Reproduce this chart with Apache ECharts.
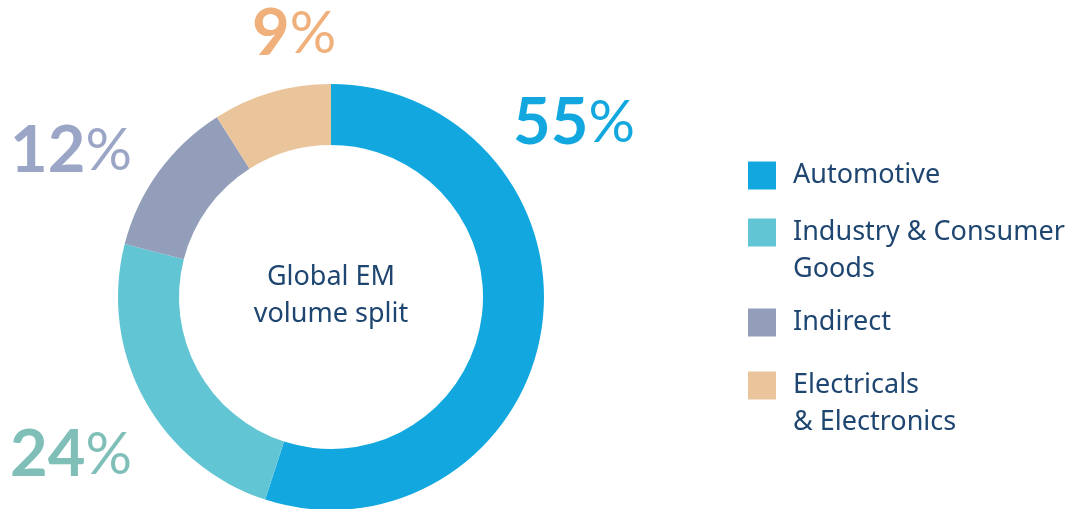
<!DOCTYPE html>
<html>
<head>
<meta charset="utf-8">
<script src="https://cdn.jsdelivr.net/npm/echarts@6/dist/echarts.min.js"></script>
<style>
  html, body { margin: 0; padding: 0; background: #fff; }
  #chart { width: 1073px; height: 509px; }
</style>
</head>
<body>
<div id="chart"></div>
<script>
var categories = ['Automotive', 'Industry & Consumer Goods', 'Indirect', 'Electricals & Electronics'];
var legendText = ['Automotive', 'Industry & Consumer\nGoods', 'Indirect', 'Electricals\n& Electronics'];
var shares = [55, 24, 12, 9];

var sliceColors = ['#12a8df', '#62c5d4', '#929eba', '#eac59b'];
var labelColors = ['#12a8df', '#7fbfb8', '#9ba5c6', '#efb07c'];
// where each percentage label sits (layout only)
var labelSpots = [[513, 123], [10, 455], [10, 151], [252, 34]];
var legendTops = [157, 177, 304, 330];

var chart = echarts.init(document.getElementById('chart'));

var pieData = categories.map(function (name, i) {
	return {
		name: name,
		value: shares[i],
		itemStyle: { color: sliceColors[i] },
		label: {
			rich: {
				n: { fontSize: 65, fontWeight: 'bold', fontFamily: 'Lato', color: labelColors[i] },
				p: { fontSize: 58, fontWeight: 'normal', fontFamily: 'Lato', color: labelColors[i] }
			}
		}
	};
});

var legends = categories.map(function (name, i) {
	return {
		data: [name],
		orient: 'vertical',
		left: 748,
		top: legendTops[i],
		padding: 0,
		icon: 'rect',
		itemWidth: 28,
		itemHeight: 28,
		selectedMode: false,
		formatter: function () {
			var t = legendText[i];
			return t.indexOf('\n') >= 0 ? '\n' + t : t;
		},
		textStyle: {
			fontFamily: 'Noto Sans',
			fontSize: 27,
			color: '#1f4670',
			lineHeight: 37,
			padding: [0, 0, 0, 12]
		}
	};
});

var option = {
	animation: false,
	title: {
		text: 'Global EM\nvolume split',
		left: 331,
		top: 259,
		padding: 0,
		textAlign: 'center',
		textStyle: {
			fontFamily: 'Noto Sans',
			fontSize: 27,
			fontWeight: 'normal',
			color: '#1f4670',
			lineHeight: 37
		}
	},
	legend: legends,
	series: [{
		type: 'pie',
		center: [331, 297],
		radius: [152, 213],
		startAngle: 90,
		clockwise: true,
		silent: true,
		label: {
			show: true,
			position: 'outside',
			overflow: 'none',
			formatter: function (p) { return '{n|' + p.value + '}{p|%}'; }
		},
		labelLine: { show: false },
		labelLayout: function (params) {
			var s = labelSpots[params.dataIndex];
			return { x: s[0], y: s[1], align: 'left', verticalAlign: 'middle' };
		},
		data: pieData
	}]
};

chart.setOption(option);
</script>
</body>
</html>
